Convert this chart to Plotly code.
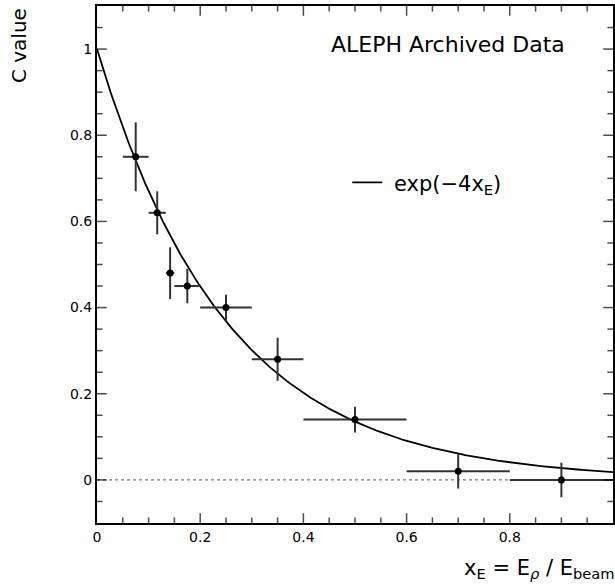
import numpy as np
import plotly.graph_objects as go

# Data points
x_vals = [0.075, 0.1167, 0.1417, 0.175, 0.25, 0.35, 0.5, 0.7, 0.9]
y_vals = [0.75, 0.62, 0.48, 0.45, 0.40, 0.28, 0.14, 0.02, 0.0]
x_err = [0.025, 0.0167, 0.0083, 0.025, 0.05, 0.05, 0.1, 0.1, 0.1]
y_err = [0.08, 0.05, 0.06, 0.04, 0.03, 0.05, 0.03, 0.04, 0.04]

# Axis ranges and tick positions
x_range = [0.0, 1.0]
y_range = [-0.1, 1.1]
x_major_ticks = [0.2, 0.4, 0.6, 0.8]
y_major_ticks = [0.0, 0.2, 0.4, 0.6, 0.8, 1.0]
x_all_ticks = [round(v, 2) for v in np.arange(0.05, 1.0, 0.05)]
y_all_ticks = [round(v, 2) for v in np.arange(-0.05, 1.1, 0.05)]

# Function curve exp(-k x)
k_coef = 4.0
x_curve = np.linspace(0, 1, 301)
y_curve = np.exp(-k_coef * x_curve)

FONT = "DejaVu Sans"
MAJ, MIN = 7, 4

fig = go.Figure()

fig.add_trace(go.Scatter(x=[0, 1], y=[0, 0], mode="lines",
                         line=dict(color="#555555", width=1, dash="dot"),
                         showlegend=False, hoverinfo="skip"))

fig.add_trace(go.Scatter(x=x_curve, y=y_curve, mode="lines",
                         line=dict(color="black", width=1.8),
                         name="\u00a0exp(\u22124x<sub>E</sub>)", showlegend=True))

fig.add_trace(go.Scatter(x=x_vals, y=y_vals, mode="markers",
                         marker=dict(color="black", size=7),
                         error_x=dict(type="data", array=x_err, width=0, thickness=2, color="#333333"),
                         error_y=dict(type="data", array=y_err, width=0, thickness=2, color="#333333"),
                         showlegend=False))

# Inside tick marks: line markers centred on the frame edges, outer half clipped
x_sizes = [2 * (MAJ if v in x_major_ticks else MIN) for v in x_all_ticks]
y_sizes = [2 * (MAJ if v in y_major_ticks else MIN) for v in y_all_ticks]
tick_marker_line = dict(color="black", width=1.5)
for edge in y_range:
    fig.add_trace(go.Scatter(x=x_all_ticks, y=[edge] * len(x_all_ticks), mode="markers",
                             marker=dict(symbol="line-ns-open", size=x_sizes, color="black",
                                         line=tick_marker_line),
                             cliponaxis=True, showlegend=False, hoverinfo="skip"))
for edge in x_range:
    fig.add_trace(go.Scatter(x=[edge] * len(y_all_ticks), y=y_all_ticks, mode="markers",
                             marker=dict(symbol="line-ew-open", size=y_sizes, color="black",
                                         line=tick_marker_line),
                             cliponaxis=True, showlegend=False, hoverinfo="skip"))

fig.update_xaxes(range=x_range, dtick=0.2, showline=True, linewidth=2, linecolor="black",
                 mirror=True, ticks="", showgrid=False, zeroline=False)
fig.update_yaxes(range=y_range, dtick=0.2, showline=True, linewidth=2, linecolor="black",
                 mirror=True, ticks="", showgrid=False, zeroline=False)

fig.add_annotation(text="ALEPH Archived Data", x=0.681, y=1.01, xref="x", yref="y",
                   showarrow=False, font=dict(family=FONT, size=22, color="black"),
                   xanchor="center", yanchor="middle")

fig.add_annotation(text="C value", x=-0.152, y=1.0, xref="paper", yref="paper",
                   textangle=-90, showarrow=False,
                   font=dict(family=FONT, size=20, color="black"),
                   xanchor="center", yanchor="top")

fig.add_annotation(text="x<sub>E</sub> = E<sub><i>\u03c1</i></sub> / E<sub>beam</sub>",
                   x=1.0, y=-0.06, xref="paper", yref="paper", xshift=4,
                   showarrow=False, font=dict(family=FONT, size=21, color="black"),
                   xanchor="right", yanchor="top")

fig.update_layout(
    width=615, height=588,
    margin=dict(l=97, r=0, t=6, b=65),
    plot_bgcolor="white", paper_bgcolor="white",
    font=dict(family=FONT, size=14, color="black"),
    legend=dict(x=0.485, y=0.658, xanchor="left", yanchor="middle",
                bgcolor="rgba(0,0,0,0)", font=dict(family=FONT, size=21)),
)

fig.write_html("out.html")
